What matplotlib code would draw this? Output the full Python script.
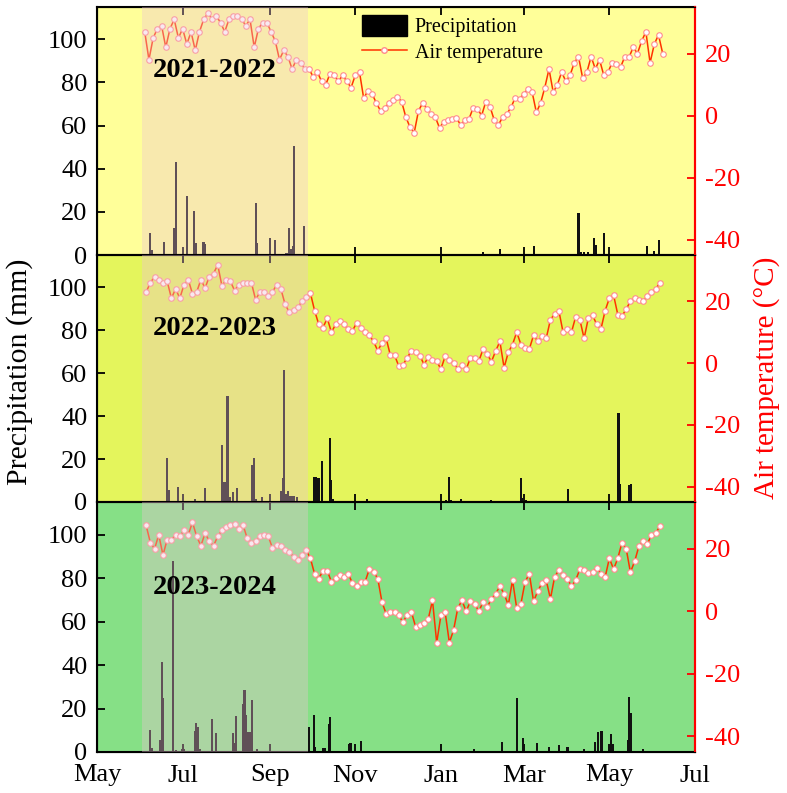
import matplotlib
matplotlib.use("Agg")
import matplotlib.pyplot as plt
import numpy as np
from matplotlib.lines import Line2D
from matplotlib.patches import Patch

plt.rcParams['font.family'] = ['Liberation Serif', 'DejaVu Serif']
plt.rcParams['axes.unicode_minus'] = False

# ---- data (x = day of season, day 0 = 1 May) ----
month_ticks = [0, 61, 123, 184, 245, 304, 365, 426]
month_labels = ["May", "Jul", "Sep", "Nov", "Jan", "Mar", "May", "Jul"]
seasons = ["2021-2022", "2022-2023", "2023-2024"]
growth_span = (32, 150)

temp_step = 3
temp_start = [34, 35, 35]
temp_2021 = [27, 18, 25, 28, 29, 22, 28, 31, 25, 28, 23, 27, 21, 27, 31, 33, 31, 32, 30, 27,
             31, 32, 32, 31, 29, 31, 22, 28, 30, 30, 27, 24, 18, 21, 19, 15, 18, 17, 15, 15,
             12.5, 14, 11, 10, 13.5, 13, 11, 13, 11, 9, 13, 14, 5.5, 8, 7, 4, 1.5, 2.5, 4, 5,
             6, 4.5, -0.5, -3.8, -5.5, 1.5, 4, 2.2, 0.5, -0.5, -4, -2, -1.5, -1.1, -0.8, -3,
             -1.5, -1.1, 2.5, 2.2, 0, 4.5, 2.8, -1.5, -3, -0.5, 0.5, 2.7, 5.8, 5.4, 7, 8.6,
             7.5, 1, 4, 9, 15, 7.5, 10, 14, 11, 13, 17, 19, 12, 14, 19, 15, 18, 13, 14, 17,
             16.5, 15.6, 19, 18.8, 22, 20, 24, 27, 17, 23, 26, 20]
temp_2022 = [23, 26, 28, 27, 26, 26.5, 21, 24, 21, 25.4, 27, 22.5, 23, 27, 24.3, 28, 29, 31.8,
             25, 27, 26.5, 23.5, 25.4, 26, 26, 26, 20.5, 23, 23, 21.6, 23, 25.4, 24, 19, 16.5,
             17.3, 18, 20, 21.5, 22.7, 17, 12.5, 11.5, 14.5, 10, 12.5, 13.5, 12.5, 11, 10.5,
             13, 11.5, 10, 9, 7, 4, 6.5, 8, 2.5, 2.5, -1, -0.5, 1.7, 4, 3.5, 2.4, -0.5, 2, 1,
             0.6, -2, 2.2, 1, 0, -1.8, -0.5, -2, 1.7, 1.7, 0.6, 4.5, 2.8, 0.5, 3.9, 7, -1.5,
             3.5, 6, 10, 6, 5, 4.6, 9, 7, 8.7, 8, 14, 16, 17, 10, 11, 10, 15, 14, 8, 14.5,
             15.5, 12.5, 11, 17, 21, 22, 15.7, 15.2, 17.5, 20, 21, 20.5, 20, 21.6, 23, 24, 26]
temp_2023 = [27.5, 22, 20, 24.5, 18, 23, 23, 24.5, 24, 26, 24.5, 28.5, 24, 21, 25, 22.5, 21,
             24, 26, 27, 27.7, 28, 26.5, 27.7, 23.4, 22, 22.4, 24, 24.5, 24, 20.3, 21.3, 21,
             19.7, 19, 17.5, 16.5, 18, 19.5, 17, 12, 10.5, 13, 13, 9.5, 10.8, 11.5, 11, 12, 9,
             8, 9.5, 9.5, 13.5, 12.7, 10.5, 3, -0.8, -0.2, -0.2, -1.3, -3.5, -1, -0.2, -5,
             -4.5, -3.7, -2.4, 3.5, -10, -1.3, -0.2, -10, -6, 1, 3.5, 0, 3.3, 2.5, 0, 3, 1.4,
             4, 5.7, 8, 5.7, 2, 10, 1, 2.5, 9.5, 12, 3.2, 6.5, 9, 10, 4, 11, 13.2, 11.5, 10.5,
             8, 10, 13.5, 13.2, 12.2, 12.7, 14, 12, 11, 17, 13.5, 17, 22, 20, 12.5, 16, 20.8,
             22.5, 21.5, 24.5, 25.1, 27.2]

precip_day_2021 = [37.8, 39, 47.8, 54.9, 56.1, 64, 69.2, 70.4, 75.9, 77, 113.2, 114, 123, 127,
                   135, 136.8, 138.5, 139.5, 140.1, 147.2, 275, 287, 311, 343, 345, 347, 349.5,
                   354, 355.4, 361.3, 392, 397, 400.5]
precip_mm_2021 = [10.3, 2.5, 5.9, 12.6, 43.2, 27.5, 20.5, 5.7, 6, 5, 24.2, 5.4, 7.9, 7, 0.8,
                  12.3, 3, 4, 50.6, 13.4, 1.2, 3, 4.2, 19.3, 1.5, 1.5, 1.5, 8, 4.6, 10.3, 4.2,
                  2, 7]
precip_day_2022 = [49.7, 51, 54, 58, 70, 77, 80, 89, 90.5, 91.7, 93, 95, 97, 100, 110.8, 112,
                   113.5, 117.6, 123.5, 131.3, 132.3, 133.2, 134.6, 135.8, 137.2, 138.9, 140.5,
                   142.5, 154.4, 155.8, 157.2, 158.4, 160.6, 165.8, 167, 168.2, 192.4, 212,
                   248.4, 250.7, 252, 259, 280.5, 301.8, 303, 305.4, 335.6, 371.5, 372.7,
                   379.1, 380.3, 397]
precip_mm_2022 = [20.7, 5.8, 0.5, 7.1, 1.5, 6.7, 0.5, 26.5, 9.3, 9.3, 49.4, 2.3, 4.6, 6.7,
                  17.3, 20.4, 1.5, 2.3, 0.5, 5, 11, 61.3, 3.9, 5, 3, 2.6, 2.6, 2.3, 11.5,
                  11.5, 11.2, 11.2, 19.2, 29.9, 10.2, 1.5, 1.5, 0.5, 1, 11.5, 1, 1.2, 1, 11,
                  2, 1, 5.9, 41.5, 8.5, 7.9, 8.5, 0.5]
precip_day_2023 = [37.8, 39, 45, 46.2, 47.3, 54, 56, 60.5, 62, 69.5, 70.7, 71.9, 73, 82, 84.9,
                   96.8, 98, 99.2, 104, 105.1, 106.3, 107.5, 108.7, 110.1, 114, 150.8, 154.4,
                   155.6, 161, 162.5, 165.1, 166.3, 179.4, 180.6, 188.2, 268.5, 288.8, 299.5,
                   303.5, 313.7, 322, 329.2, 335.2, 347, 354.6, 357, 359.4, 366, 367.2, 378,
                   379.1, 380.3, 388.7]
precip_mm_2023 = [10.2, 2, 5.6, 41.2, 24.8, 87.9, 1, 1.5, 1.5, 9.6, 13.5, 11.5, 1.2, 15.3,
                  8.9, 8.6, 4.3, 16.6, 22, 28.5, 16.9, 9.3, 9, 24.1, 1.2, 11.6, 17.1, 2.5,
                  1.8, 1.8, 12.7, 16.1, 3.5, 4, 5.1, 1.2, 4.8, 24.9, 6.3, 4, 2.5, 3, 2.2, 1.2,
                  4.8, 9.3, 9.6, 8.1, 3.5, 5.6, 25.4, 17.9, 1.2]

temps = [temp_2021, temp_2022, temp_2023]
precip_days = [precip_day_2021, precip_day_2022, precip_day_2023]
precip_mms = [precip_mm_2021, precip_mm_2022, precip_mm_2023]

# ---- styling ----
bg_colors = ["#FFFF99", "#E4F55C", "#86E086"]
shade_color = "#EEC2D6"
shade_alpha = 0.36
label_y = [0.745, 0.704, 0.656]
W, H = 787, 793
left_px, right_px = 97, 695
panels_px = [(7, 255), (255, 502), (502, 752)]
temp_color = "#FF3300"

fig = plt.figure(figsize=(W / 100, H / 100), dpi=100)
fs = 19

axes = []
for i in range(3):
    top, bot = panels_px[i]
    ax = fig.add_axes([left_px / W, 1 - bot / H, (right_px - left_px) / W, (bot - top) / H])
    ax.set_facecolor(bg_colors[i])
    ax.bar(precip_days[i], precip_mms[i], width=1.5, color="#111111", zorder=2)
    ax.set_xlim(month_ticks[0], month_ticks[-1])
    ax.set_ylim(0, 115)
    ax.set_yticks([0, 20, 40, 60, 80, 100])
    ax.set_xticks(month_ticks)
    if i == 2:
        ax.set_xticklabels(month_labels)
    else:
        ax.set_xticklabels([])
    ax.tick_params(axis='both', direction='in', length=6, width=1.3, labelsize=fs, top=True)
    ax.tick_params(axis='y', pad=7)
    ax.tick_params(axis='x', pad=9)
    for s in ax.spines.values():
        s.set_linewidth(1.5)
    ax.spines['right'].set_color('red')

    ax2 = ax.twinx()
    t = np.array(temps[i], dtype=float)
    x = temp_start[i] + temp_step * np.arange(len(t))
    ax2.plot(x, t, color=temp_color, lw=1.1, marker='o', ms=4.0, mfc='white',
             mec='#FF8C8C', mew=0.8, zorder=3)
    ax2.set_ylim(-45, 35)
    ax2.set_yticks([-40, -20, 0, 20])
    ax2.tick_params(axis='y', direction='in', length=6, width=1.3, colors='red',
                    labelsize=fs, pad=7)
    ax2.spines['right'].set_color('red')
    ax2.spines['right'].set_linewidth(1.5)
    ax2.axvspan(growth_span[0], growth_span[1], color=shade_color, alpha=shade_alpha,
                lw=0, zorder=5)
    ax2.text(0.093, label_y[i], seasons[i], transform=ax.transAxes, fontsize=20.5,
             fontweight='bold', va='center', ha='left', zorder=10)
    axes.append((ax, ax2))

# legend
handles = [Patch(facecolor='black', edgecolor='black', label='Precipitation'),
           Line2D([], [], color=temp_color, lw=1.1, marker='o', ms=4.0, mfc='white',
                  mec='#FF8C8C', label='Air temperature')]
leg = axes[0][1].legend(handles=handles, loc='upper left', bbox_to_anchor=(0.43, 1.0),
                        frameon=False, fontsize=14.5, handlelength=2.2, handleheight=1.2,
                        handletextpad=0.4, labelspacing=0.2, borderaxespad=0)
leg.set_zorder(20)

fig.text(20 / W, 1 - 372 / H, "Precipitation (mm)", rotation=90, fontsize=21.5,
         ha='center', va='center')
fig.text(767 / W, 1 - 378 / H, "Air temperature (\u00b0C)", rotation=90, fontsize=21,
         ha='center', va='center', color='red')

fig.savefig("out.png", dpi=100)
